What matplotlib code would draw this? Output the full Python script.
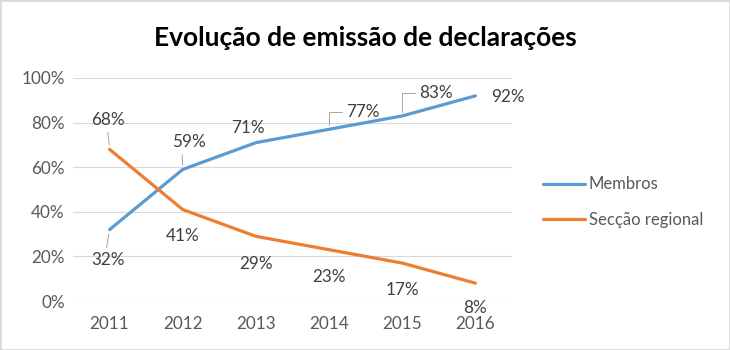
import matplotlib.pyplot as plt
from matplotlib.patches import Rectangle

plt.rcParams['font.family'] = ['Lato', 'DejaVu Sans']

anos = ["2011", "2012", "2013", "2014", "2015", "2016"]
membros = [32, 59, 71, 77, 83, 92]
seccao = [68, 41, 29, 23, 17, 8]

# label offsets (pixels) relative to the point
off_membros = [(-2, -30), (6, 27), (-8, 15), (34, 17), (34, 23), (33, -1)]
off_seccao = [(-2, 29), (0, -26), (0, -28), (0, -27), (0, -27), (0, -25)]

azul = "#5B9BD5"
laranja = "#ED7D31"
cinza_txt = "#595959"
fs = 12.3

fig = plt.figure(figsize=(7.3, 3.5), dpi=100)
ax = fig.add_axes([73 / 730, 1 - 301 / 350, 439 / 730, 223 / 350])

x = list(range(len(anos)))
ax.plot(x, membros, color=azul, linewidth=2.3, label="Membros", solid_capstyle="round")
ax.plot(x, seccao, color=laranja, linewidth=2.3, label="Secção regional", solid_capstyle="round")

ax.set_xlim(-0.5, len(anos) - 0.5)
ax.set_ylim(0, 100)
ax.set_yticks(range(0, 101, 20))
ax.set_yticklabels([f"{v}%" for v in range(0, 101, 20)])
ax.set_xticks(x)
ax.set_xticklabels(anos)
ax.tick_params(length=0, labelsize=fs, labelcolor=cinza_txt)
ax.tick_params(axis="x", pad=11)
ax.tick_params(axis="y", pad=6)
ax.grid(axis="y", color="#D9D9D9", linewidth=0.8)
ax.set_axisbelow(True)
for s in ax.spines.values():
    s.set_visible(False)

leader = dict(arrowstyle="-", color="#A6A6A6", lw=0.7, shrinkA=1, shrinkB=3)

def rotulo(i, v, off, com_linha=None):
    kw = dict(xy=(i, v), xytext=off, textcoords="offset pixels",
              ha="center", va="center", fontsize=fs, color="#404040")
    if com_linha is not None:
        kw["arrowprops"] = dict(leader, **com_linha)
    ax.annotate(f"{v}%", **kw)

linhas_membros = [dict(relpos=(0.45, 1)), dict(relpos=(0.3, 0)), None,
                  dict(relpos=(0, 0.5), connectionstyle="angle,angleA=0,angleB=90,rad=0"),
                  dict(relpos=(0, 0.5), connectionstyle="angle,angleA=0,angleB=90,rad=0"),
                  None]
linhas_seccao = [dict(relpos=(0.5, 0)), None, None, None, None, None]

for i, v in enumerate(membros):
    rotulo(i, v, off_membros[i], linhas_membros[i])
for i, v in enumerate(seccao):
    rotulo(i, v, off_seccao[i], linhas_seccao[i])

fig.text(0.5, 1 - 38 / 350, "Evolução de emissão de declarações", ha="center", va="center",
         fontsize=19, fontweight="bold", color="black")

fig.legend(loc="center left", bbox_to_anchor=(528 / 730, 1 - 202 / 350), frameon=False,
           fontsize=12, labelcolor=cinza_txt, handlelength=2.5, handletextpad=0.25,
           labelspacing=1.15)

fig.patches.append(Rectangle((0, 0), 1, 1, transform=fig.transFigure, fill=False,
                             edgecolor="#D9D9D9", linewidth=2))

fig.savefig("out.png", dpi=100)
